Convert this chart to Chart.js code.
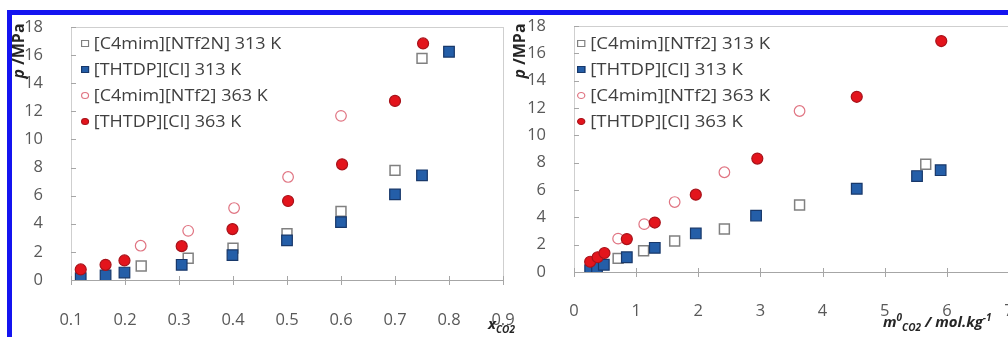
<!DOCTYPE html>
<html>
<head>
<meta charset="utf-8">
<script src="https://cdn.jsdelivr.net/npm/chart.js@4.4.1/dist/chart.umd.min.js"></script>
<style>
  html, body { margin: 0; padding: 0; background: #fff; overflow: hidden; }
  body { width: 1008px; height: 337px; position: relative; font-family: "Open Sans", "Liberation Sans", sans-serif; }
  .frame { position: absolute; left: 7px; top: 10px; width: 1100px; height: 322px; border: 5px solid #1414f0; }
  canvas { position: absolute; top: 0; }
  #leftChart { left: 0; }
  #rightChart { left: 504px; }
  .ytitle { position: absolute; width: 62px; height: 20px; line-height: 20px; text-align: center; font-weight: bold; font-size: 16px; color: #262626; transform: rotate(-90deg); transform-origin: center; white-space: nowrap; }
  .xtitle { position: absolute; font-weight: bold; font-style: italic; font-size: 15px; color: #262626; white-space: nowrap; }
  .xtitle sub, .xtitle sup { font-size: 10px; }
  .legend { position: absolute; font-size: 15.5px; color: #404040; transform-origin: left top; }
  .legend div { height: 26px; line-height: 26px; white-space: nowrap; }
  .legend span.mk { display: inline-block; width: 5px; height: 5px; margin-right: 4px; vertical-align: middle; position: relative; top: -1px; }
</style>
</head>
<body>
<div class="frame"></div>
<canvas id="rightChart" width="520" height="337"></canvas>
<canvas id="leftChart" width="520" height="337"></canvas>

<div class="ytitle" style="left:-13px; top:41px;"><i>p</i> /MPa</div>
<div class="ytitle" style="left:488px; top:41px;"><i>p</i> /MPa</div>
<div class="xtitle" style="left:488px; top:313px;">x<sub>CO2</sub></div>
<div class="xtitle" style="left:883px; top:310px;">m<sup>0</sup><sub>CO2</sub> / mol.kg<sup>-1</sup></div>

<div class="legend" id="leftLegend" style="left:81px; top:30px; transform: scaleX(1.16);"></div>
<div class="legend" id="rightLegend" style="left:577px; top:30px; transform: scaleX(1.2);"></div>

<script>
// Series labels
const leftLabels = ['[C4mim][NTf2N] 313 K', '[THTDP][Cl] 313 K', '[C4mim][NTf2] 363 K', '[THTDP][Cl] 363 K'];
const rightLabels = ['[C4mim][NTf2] 313 K', '[THTDP][Cl] 313 K', '[C4mim][NTf2] 363 K', '[THTDP][Cl] 363 K'];

// Left chart: p vs x_CO2
const xC4_313 = [0.23, 0.317, 0.40, 0.50, 0.60, 0.70, 0.75];
const pC4_313 = [1.0, 1.55, 2.27, 3.29, 4.88, 7.8, 15.77];
const xTh_313 = [0.118, 0.164, 0.199, 0.305, 0.399, 0.50, 0.60, 0.70, 0.75, 0.80];
const pTh_313 = [0.13, 0.32, 0.53, 1.08, 1.77, 2.82, 4.12, 6.09, 7.45, 16.24];
const xC4_363 = [0.229, 0.317, 0.402, 0.502, 0.60];
const pC4_363 = [2.44, 3.5, 5.12, 7.33, 11.68];
const xTh_363 = [0.118, 0.164, 0.199, 0.305, 0.399, 0.502, 0.602, 0.70, 0.752];
const pTh_363 = [0.75, 1.08, 1.39, 2.41, 3.62, 5.62, 8.23, 12.74, 16.83];

// Right chart: p vs molality
const mC4_313 = [0.71, 1.12, 1.62, 2.42, 3.63, 5.66];
const pmC4_313 = [1.0, 1.55, 2.27, 3.15, 4.9, 7.88];
const mTh_313 = [0.26, 0.37, 0.48, 0.85, 1.30, 1.96, 2.93, 4.55, 5.52, 5.90];
const pmTh_313 = [0.13, 0.32, 0.53, 1.08, 1.77, 2.82, 4.12, 6.09, 7.02, 7.45];
const mC4_363 = [0.71, 1.13, 1.62, 2.42, 3.63];
const pmC4_363 = [2.44, 3.5, 5.12, 7.3, 11.78];
const mTh_363 = [0.26, 0.38, 0.49, 0.85, 1.30, 1.96, 2.95, 4.55, 5.91];
const pmTh_363 = [0.75, 1.08, 1.39, 2.41, 3.62, 5.66, 8.3, 12.82, 16.9];

// Axis ticks
const pTicks = { min: 0, max: 18, step: 1, labelEvery: 2 };
const xTicksLeft = { min: 0.1, max: 0.9, step: 0.1 };
const xTicksRight = { min: 0, max: 7, step: 1 };

// Marker styles (Excel-ish)
const styles = [
  { pointStyle: 'rect', pointRadius: 7, backgroundColor: '#ffffff', borderColor: '#808080', pointBorderWidth: 1.5, order: 4 },
  { pointStyle: 'rect', pointRadius: 7.5, backgroundColor: '#245ea8', borderColor: '#18386a', pointBorderWidth: 1.2, order: 3 },
  { pointStyle: 'circle', pointRadius: 5.3, backgroundColor: '#ffffff', borderColor: '#e07482', pointBorderWidth: 1.2, order: 2 },
  { pointStyle: 'circle', pointRadius: 5.5, backgroundColor: '#e3141c', borderColor: '#a8121a', pointBorderWidth: 1.2, order: 1 }
];

function zip(xs, ys) {
  return xs.map((x, i) => ({ x: x, y: ys[i] }));
}

// plot frame + crossing tick marks like the original
const framePlugin = {
  id: 'frame',
  beforeDatasetsDraw(chart) {
    const { ctx, chartArea: a, scales } = chart;
    ctx.save();
    ctx.lineWidth = 1;
    ctx.strokeStyle = '#cfcfcf';
    ctx.strokeRect(Math.round(a.left) + 0.5, Math.round(a.top) + 0.5, Math.round(a.right - a.left), Math.round(a.bottom - a.top));
    ctx.strokeStyle = '#a6a6a6';
    ctx.beginPath();
    const yb = Math.round(a.bottom) + 0.5;
    ctx.moveTo(a.left, yb);
    ctx.lineTo(a.right, yb);
    scales.x.ticks.forEach(t => {
      const px = Math.round(scales.x.getPixelForValue(t.value)) + 0.5;
      ctx.moveTo(px, a.bottom - 4);
      ctx.lineTo(px, a.bottom + 5);
    });
    scales.y.ticks.forEach(t => {
      const py = Math.round(scales.y.getPixelForValue(t.value)) + 0.5;
      ctx.moveTo(a.left, py);
      ctx.lineTo(a.left + 5, py);
    });
    ctx.stroke();
    ctx.restore();
  }
};

function buildDatasets(labels, pairs) {
  return pairs.map((pts, i) => Object.assign({
    label: labels[i],
    data: pts,
    showLine: false
  }, styles[i], { pointHoverRadius: styles[i].pointRadius }));
}

function makeChart(id, labels, pairs, xt, opts) {
  const ctx = document.getElementById(id).getContext('2d');
  return new Chart(ctx, {
    type: 'scatter',
    data: { datasets: buildDatasets(labels, pairs) },
    options: {
      responsive: false,
      animation: false,
      layout: { padding: { top: opts.top, right: opts.right, left: 0, bottom: 0 } },
      plugins: { legend: { display: false }, tooltip: { enabled: false } },
      scales: {
        x: {
          type: 'linear',
          min: xt.min, max: xt.max,
          grid: { display: false },
          border: { display: false },
          ticks: { stepSize: xt.step, padding: opts.xPad, color: '#595959', font: { family: 'Open Sans', size: 16.5 } },
          afterFit(scale) {
            scale.height = opts.xHeight;
            // keep the plot edges where the original has them
            scale.paddingLeft = 0;
            scale.paddingRight = 0;
          }
        },
        y: {
          min: pTicks.min, max: pTicks.max,
          grid: { display: false },
          border: { display: false },
          ticks: {
            stepSize: pTicks.step,
            padding: 20,
            color: '#595959',
            font: { family: 'Open Sans', size: 16.5 },
            callback: v => (v % pTicks.labelEvery === 0 ? v : '')
          },
          afterFit(scale) {
            scale.width = opts.yWidth;
            scale.paddingTop = 0;
            scale.paddingBottom = 0;
          }
        }
      }
    },
    plugins: [framePlugin]
  });
}

// HTML legend, built from the chart datasets
function buildLegend(chart, elId) {
  const box = document.getElementById(elId);
  chart.data.datasets.forEach(ds => {
    const row = document.createElement('div');
    const mk = document.createElement('span');
    mk.className = 'mk';
    mk.style.background = ds.backgroundColor;
    mk.style.border = '1px solid ' + ds.borderColor;
    if (ds.pointStyle === 'circle') mk.style.borderRadius = '50%';
    row.appendChild(mk);
    row.appendChild(document.createTextNode(ds.label));
    box.appendChild(row);
  });
}

document.addEventListener('DOMContentLoaded', () => {
  const left = makeChart('leftChart', leftLabels,
    [zip(xC4_313, pC4_313), zip(xTh_313, pTh_313), zip(xC4_363, pC4_363), zip(xTh_363, pTh_363)],
    xTicksLeft, { top: 27, right: 17, yWidth: 71, xHeight: 57, xPad: 22 });

  const right = makeChart('rightChart', rightLabels,
    [zip(mC4_313, pmC4_313), zip(mTh_313, pmTh_313), zip(mC4_363, pmC4_363), zip(mTh_363, pmTh_363)],
    xTicksRight, { top: 26, right: 15, yWidth: 70, xHeight: 65, xPad: 21 });

  buildLegend(left, 'leftLegend');
  buildLegend(right, 'rightLegend');
});
</script>
</body>
</html>
